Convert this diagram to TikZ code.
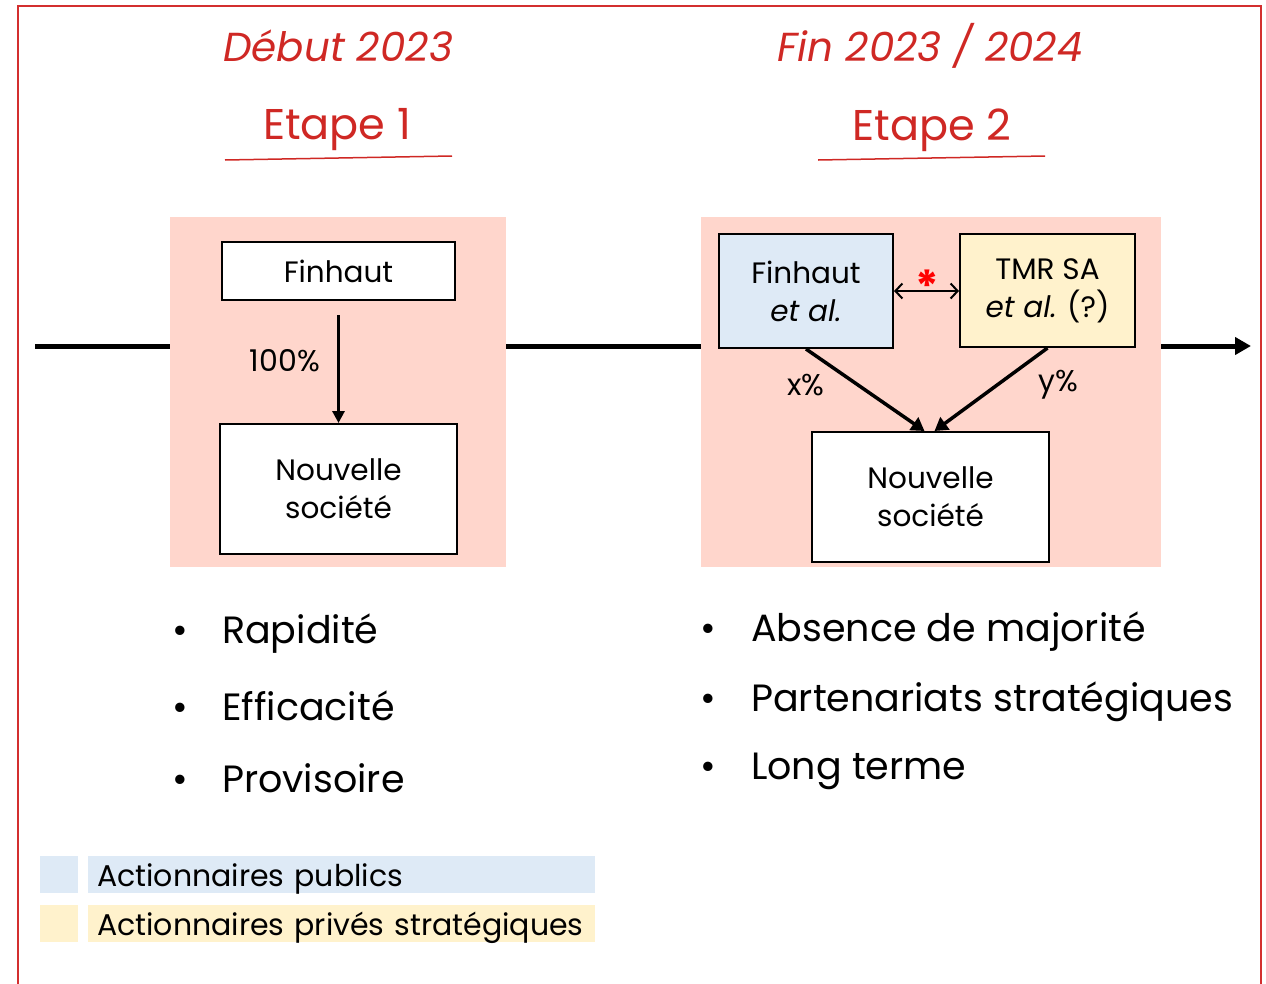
\documentclass[tikz,border=0pt]{standalone}
\usepackage{fontspec}
\setmainfont{Poppins}
\usetikzlibrary{arrows.meta}
\definecolor{framered}{RGB}{211,47,47}
\definecolor{titlered}{RGB}{207,40,36}
\definecolor{pinkbg}{RGB}{255,214,204}
\definecolor{blueF}{RGB}{222,234,246}
\definecolor{yellowF}{RGB}{255,242,204}
\begin{document}
\begin{tikzpicture}[x=1pt,y=-1pt,
  title/.style={text=titlered, font=\fontsize{40.5}{48}\selectfont\itshape, inner sep=0pt},
  etape/.style={text=titlered, font=\fontsize{43}{48}\selectfont, inner sep=0pt},
  pinkzone/.style={fill=pinkbg, draw=none, inner sep=0pt},
  entity/.style={draw=black, line width=2pt, font=\fontsize{29.5}{38}\selectfont, align=center, inner sep=0pt},
  pct/.style={font=\fontsize{30}{34}\selectfont, inner sep=0pt},
  bullet/.style={font=\fontsize{38}{44}\selectfont, anchor=west, inner sep=0pt},
  legsq/.style={draw=none, inner sep=0pt, minimum width=38pt, minimum height=37pt},
  legbar/.style={draw=none, inner xsep=9pt, inner ysep=0pt, text width=489pt, text height=30pt, text depth=7pt, align=left, font=\fontsize{30}{34}\selectfont, anchor=west},
  timeline/.style={line width=5pt},
  own/.style={line width=3.5pt, -{Triangle[length=13pt,width=15pt]}},
  ownthin/.style={line width=3pt, -{Triangle[length=12pt,width=12pt]}},
  partner/.style={line width=2pt, {Straight Barb[length=7pt,width=15pt]}-{Straight Barb[length=7pt,width=15pt]}},
  uline/.style={titlered, line width=1.5pt}
]
\useasboundingbox (0,0) rectangle (1266,983);

% frame
\draw[framered, line width=2.5pt] (18,990) -- (18,6) -- (1261,6) -- (1261,990);

% titles
\node[title] (t1) at (338,46) {Début 2023};
\node[etape] (e1) at (337,130) {Etape 1};
\draw[uline] (225,160) -- (452,156);
\node[title] (t2) at (930,46) {Fin 2023 / 2024};
\node[etape] (e2) at (932,130) {Etape 2};
\draw[uline] (818,160) -- (1045,156);

% pink zones
\node[pinkzone, minimum width=336pt, minimum height=350pt] (p1) at (338,392) {};
\node[pinkzone, minimum width=460pt, minimum height=350pt] (p2) at (931,392) {};

% timeline
\coordinate (tl0) at (35,346);
\coordinate (tl1) at (1251,346);
\draw[timeline] (tl0) -- (p1.west |- tl0);
\draw[timeline] (p1.east |- tl0) -- (p2.west |- tl0);
\draw[timeline, -{Triangle[length=16pt,width=17pt]}] (p2.east |- tl0) -- (tl1);

% step 1
\node[entity, fill=white, minimum width=233pt, minimum height=58pt] (f1) at (338.5,271) {Finhaut};
\node[entity, fill=white, minimum width=237pt, minimum height=130pt] (n1) at (338.5,489) {Nouvelle\\société};
\draw[ownthin] ([yshift=-14pt]f1.south) -- (n1.north);
\node[pct] (l100) at (285,361) {100\%};

% step 2
\node[entity, fill=blueF, minimum width=174pt, minimum height=114pt] (f2) at (806,291) {Finhaut\\\textit{et al.}};
\node[entity, fill=yellowF, minimum width=175pt, minimum height=113pt] (tm) at (1047.5,290.5) {TMR SA\\\textit{et al.} (?)};
\node[entity, fill=white, minimum width=237pt, minimum height=130pt] (n2) at (930.5,497) {Nouvelle\\société};
\draw[partner] (f2.east) -- (tm.west |- f2.east);
\node[text=red, font=\fontsize{44}{44}\selectfont\bfseries, inner sep=0pt] (ast) at (927,286) {*};
\draw[own] (f2.south) -- ([xshift=-6pt]n2.north);
\draw[own] (tm.south) -- ([xshift=4pt]n2.north);
\node[pct] (lx) at (806,385) {x\%};
\node[pct] (ly) at (1058,385) {y\%};

% bullet lists
\node[bullet] (b1) at (172,634) {\makebox[50pt][l]{•}Rapidité};
\node[bullet] (b2) at (172,706) {\makebox[50pt][l]{•}Efficacité};
\node[bullet] (b3) at (172,778) {\makebox[50pt][l]{•}Provisoire};
\node[bullet] (b4) at (700,632) {\makebox[51pt][l]{•}Absence de majorité};
\node[bullet] (b5) at (700,702) {\makebox[51pt][l]{•}Partenariats stratégiques};
\node[bullet] (b6) at (700,771) {\makebox[51pt][l]{•}Long terme};

% legend
\node[legsq, fill=blueF] (sq1) at (59,874.5) {};
\node[legbar, fill=blueF] (bar1) at (88,874.5) {Actionnaires publics};
\node[legsq, fill=yellowF] (sq2) at (59,923.5) {};
\node[legbar, fill=yellowF] (bar2) at (88,923.5) {Actionnaires privés stratégiques};
\end{tikzpicture}
\end{document}
